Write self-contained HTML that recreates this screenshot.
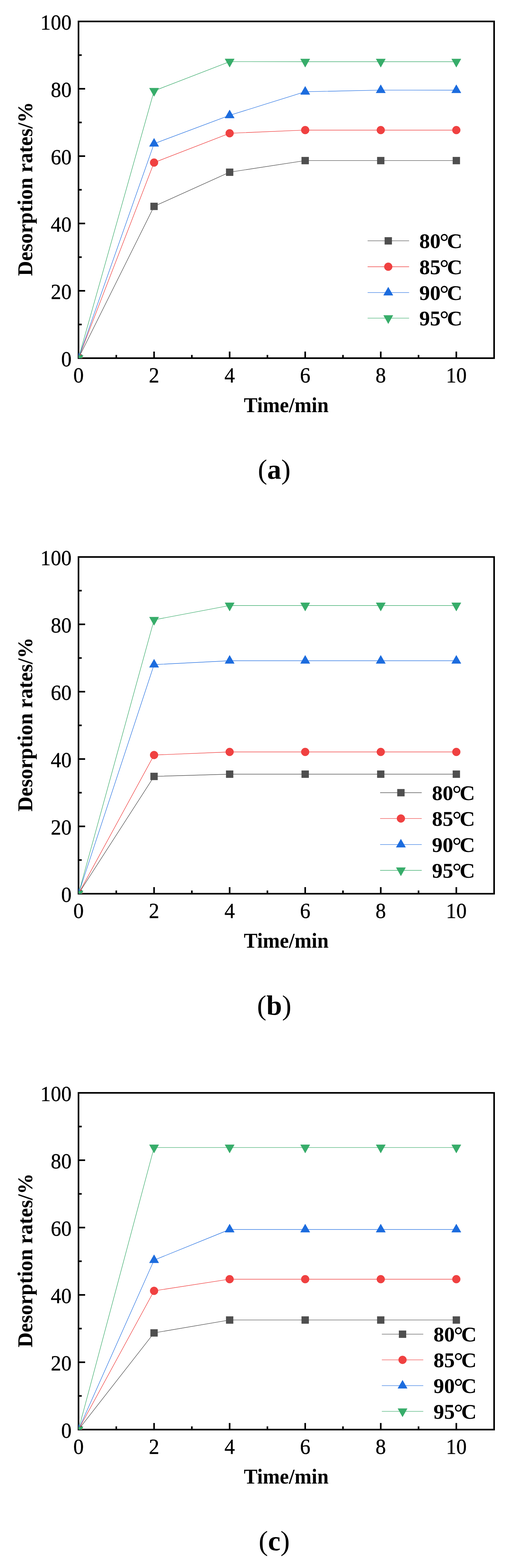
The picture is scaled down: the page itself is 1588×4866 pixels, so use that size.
<!DOCTYPE html>
<html><head><meta charset="utf-8"><title>Desorption rates</title>
<style>
html,body{margin:0;padding:0;background:#fff;}
svg{display:block;}
.tk{font-family:'Liberation Serif', 'Noto Serif CJK SC', serif;font-size:67px;fill:#000;stroke:#000;stroke-width:0.6px;}
.lab{font-family:'Liberation Serif',serif;font-weight:bold;font-size:65px;fill:#000;}
.leg{font-family:'Liberation Serif',serif;font-weight:bold;font-size:66px;fill:#000;}
.cap{font-family:'Liberation Serif',serif;font-size:87px;fill:#000;}
</style></head><body>
<svg width="1588" height="4866" viewBox="0 0 1588 4866">
<rect width="1588" height="4866" fill="#fff"/>

<g id="plot1">
<defs><clipPath id="clip0"><rect x="243.5" y="66.5" width="1289.0" height="1045.0"/></clipPath></defs>
<rect x="243.5" y="66.5" width="1289.0" height="1045.0" fill="none" stroke="#000" stroke-width="5"/>
<line x1="243.5" y1="1007.00" x2="253.50" y2="1007.00" stroke="#000" stroke-width="5"/>
<line x1="243.5" y1="902.50" x2="264.00" y2="902.50" stroke="#000" stroke-width="5"/>
<line x1="243.5" y1="798.00" x2="253.50" y2="798.00" stroke="#000" stroke-width="5"/>
<line x1="243.5" y1="693.50" x2="264.00" y2="693.50" stroke="#000" stroke-width="5"/>
<line x1="243.5" y1="589.00" x2="253.50" y2="589.00" stroke="#000" stroke-width="5"/>
<line x1="243.5" y1="484.50" x2="264.00" y2="484.50" stroke="#000" stroke-width="5"/>
<line x1="243.5" y1="380.00" x2="253.50" y2="380.00" stroke="#000" stroke-width="5"/>
<line x1="243.5" y1="275.50" x2="264.00" y2="275.50" stroke="#000" stroke-width="5"/>
<line x1="243.5" y1="171.00" x2="253.50" y2="171.00" stroke="#000" stroke-width="5"/>
<line x1="360.68" y1="1111.5" x2="360.68" y2="1101.50" stroke="#000" stroke-width="5"/>
<line x1="477.86" y1="1111.5" x2="477.86" y2="1091.00" stroke="#000" stroke-width="5"/>
<line x1="595.04" y1="1111.5" x2="595.04" y2="1101.50" stroke="#000" stroke-width="5"/>
<line x1="712.22" y1="1111.5" x2="712.22" y2="1091.00" stroke="#000" stroke-width="5"/>
<line x1="829.40" y1="1111.5" x2="829.40" y2="1101.50" stroke="#000" stroke-width="5"/>
<line x1="946.58" y1="1111.5" x2="946.58" y2="1091.00" stroke="#000" stroke-width="5"/>
<line x1="1063.76" y1="1111.5" x2="1063.76" y2="1101.50" stroke="#000" stroke-width="5"/>
<line x1="1180.94" y1="1111.5" x2="1180.94" y2="1091.00" stroke="#000" stroke-width="5"/>
<line x1="1298.12" y1="1111.5" x2="1298.12" y2="1101.50" stroke="#000" stroke-width="5"/>
<line x1="1415.30" y1="1111.5" x2="1415.30" y2="1091.00" stroke="#000" stroke-width="5"/>
<text class="tk" transform="translate(221.8,1137.00) scale(0.96,1)" text-anchor="end">0</text>
<text class="tk" transform="translate(221.8,928.00) scale(0.96,1)" text-anchor="end">20</text>
<text class="tk" transform="translate(221.8,719.00) scale(0.96,1)" text-anchor="end">40</text>
<text class="tk" transform="translate(221.8,510.00) scale(0.96,1)" text-anchor="end">60</text>
<text class="tk" transform="translate(221.8,301.00) scale(0.96,1)" text-anchor="end">80</text>
<text class="tk" transform="translate(221.8,92.00) scale(0.96,1)" text-anchor="end">100</text>
<text class="tk" transform="translate(243.50,1187.20) scale(0.96,1)" text-anchor="middle">0</text>
<text class="tk" transform="translate(477.86,1187.20) scale(0.96,1)" text-anchor="middle">2</text>
<text class="tk" transform="translate(712.22,1187.20) scale(0.96,1)" text-anchor="middle">4</text>
<text class="tk" transform="translate(946.58,1187.20) scale(0.96,1)" text-anchor="middle">6</text>
<text class="tk" transform="translate(1180.94,1187.20) scale(0.96,1)" text-anchor="middle">8</text>
<text class="tk" transform="translate(1415.30,1187.20) scale(0.96,1)" text-anchor="middle">10</text>
<text class="lab" transform="translate(887.7,1278.50) scale(0.975,1)" text-anchor="middle">Time/min</text>
<text class="lab" transform="translate(100,586.4) rotate(-90) scale(0.994,1)" x="0" y="0" text-anchor="middle">Desorption rates/%</text>
<g clip-path="url(#clip0)">
<polyline points="243.50,1111.50 477.86,640.40 712.22,534.40 946.58,498.30 1180.94,498.30 1415.30,498.30" fill="none" stroke="#3c3c3c" stroke-width="1.35" stroke-linejoin="round"/>
<polyline points="243.50,1111.50 477.86,504.50 712.22,413.60 946.58,403.70 1180.94,403.70 1415.30,403.70" fill="none" stroke="#ee2a2a" stroke-width="1.35" stroke-linejoin="round"/>
<polyline points="243.50,1111.50 477.86,445.90 712.22,357.90 946.58,284.70 1180.94,279.70 1415.30,279.70" fill="none" stroke="#1466e0" stroke-width="1.35" stroke-linejoin="round"/>
<polyline points="243.50,1111.50 477.86,282.00 712.22,191.40 946.58,191.50 1180.94,191.50 1415.30,191.50" fill="none" stroke="#28a45e" stroke-width="1.35" stroke-linejoin="round"/>
<rect x="232.55" y="1100.55" width="21.9" height="21.9" fill="#4f4f4f" stroke="#454545" stroke-width="0.8"/>
<rect x="466.91" y="629.45" width="21.9" height="21.9" fill="#4f4f4f" stroke="#454545" stroke-width="0.8"/>
<rect x="701.27" y="523.45" width="21.9" height="21.9" fill="#4f4f4f" stroke="#454545" stroke-width="0.8"/>
<rect x="935.63" y="487.35" width="21.9" height="21.9" fill="#4f4f4f" stroke="#454545" stroke-width="0.8"/>
<rect x="1169.99" y="487.35" width="21.9" height="21.9" fill="#4f4f4f" stroke="#454545" stroke-width="0.8"/>
<rect x="1404.35" y="487.35" width="21.9" height="21.9" fill="#4f4f4f" stroke="#454545" stroke-width="0.8"/>
<circle cx="243.50" cy="1111.50" r="12.4" fill="#f04141" stroke="#ea3535" stroke-width="0.8"/>
<circle cx="477.86" cy="504.50" r="12.4" fill="#f04141" stroke="#ea3535" stroke-width="0.8"/>
<circle cx="712.22" cy="413.60" r="12.4" fill="#f04141" stroke="#ea3535" stroke-width="0.8"/>
<circle cx="946.58" cy="403.70" r="12.4" fill="#f04141" stroke="#ea3535" stroke-width="0.8"/>
<circle cx="1180.94" cy="403.70" r="12.4" fill="#f04141" stroke="#ea3535" stroke-width="0.8"/>
<circle cx="1415.30" cy="403.70" r="12.4" fill="#f04141" stroke="#ea3535" stroke-width="0.8"/>
<polygon points="243.50,1094.57 258.10,1119.97 228.90,1119.97" fill="#1c6cde" stroke="#1466dc" stroke-width="0.8" stroke-linejoin="round"/>
<polygon points="477.86,428.97 492.46,454.37 463.26,454.37" fill="#1c6cde" stroke="#1466dc" stroke-width="0.8" stroke-linejoin="round"/>
<polygon points="712.22,340.97 726.82,366.37 697.62,366.37" fill="#1c6cde" stroke="#1466dc" stroke-width="0.8" stroke-linejoin="round"/>
<polygon points="946.58,267.77 961.18,293.17 931.98,293.17" fill="#1c6cde" stroke="#1466dc" stroke-width="0.8" stroke-linejoin="round"/>
<polygon points="1180.94,262.77 1195.54,288.17 1166.34,288.17" fill="#1c6cde" stroke="#1466dc" stroke-width="0.8" stroke-linejoin="round"/>
<polygon points="1415.30,262.77 1429.90,288.17 1400.70,288.17" fill="#1c6cde" stroke="#1466dc" stroke-width="0.8" stroke-linejoin="round"/>
<polygon points="229.00,1102.90 258.00,1102.90 243.50,1128.70" fill="#37ad6a" stroke="#2fa562" stroke-width="0.8" stroke-linejoin="round"/>
<polygon points="463.36,273.40 492.36,273.40 477.86,299.20" fill="#37ad6a" stroke="#2fa562" stroke-width="0.8" stroke-linejoin="round"/>
<polygon points="697.72,182.80 726.72,182.80 712.22,208.60" fill="#37ad6a" stroke="#2fa562" stroke-width="0.8" stroke-linejoin="round"/>
<polygon points="932.08,182.90 961.08,182.90 946.58,208.70" fill="#37ad6a" stroke="#2fa562" stroke-width="0.8" stroke-linejoin="round"/>
<polygon points="1166.44,182.90 1195.44,182.90 1180.94,208.70" fill="#37ad6a" stroke="#2fa562" stroke-width="0.8" stroke-linejoin="round"/>
<polygon points="1400.80,182.90 1429.80,182.90 1415.30,208.70" fill="#37ad6a" stroke="#2fa562" stroke-width="0.8" stroke-linejoin="round"/>
</g>
<line x1="1140.2" y1="747.4" x2="1268.8" y2="747.4" stroke="#3c3c3c" stroke-width="1.35"/>
<rect x="1193.25" y="736.45" width="21.9" height="21.9" fill="#4f4f4f" stroke="#454545" stroke-width="0.8"/>
<text class="leg" x="1300.5" y="770.40">80<tspan dx="-3" dy="4" font-size="72">°</tspan><tspan dx="-6" dy="-4">C</tspan></text>
<line x1="1140.2" y1="827.7" x2="1268.8" y2="827.7" stroke="#ee2a2a" stroke-width="1.35"/>
<circle cx="1204.20" cy="827.70" r="12.4" fill="#f04141" stroke="#ea3535" stroke-width="0.8"/>
<text class="leg" x="1300.5" y="850.70">85<tspan dx="-3" dy="4" font-size="72">°</tspan><tspan dx="-6" dy="-4">C</tspan></text>
<line x1="1140.2" y1="907.9" x2="1268.8" y2="907.9" stroke="#1466e0" stroke-width="1.35"/>
<polygon points="1204.20,890.97 1218.80,916.37 1189.60,916.37" fill="#1c6cde" stroke="#1466dc" stroke-width="0.8" stroke-linejoin="round"/>
<text class="leg" x="1300.5" y="930.90">90<tspan dx="-3" dy="4" font-size="72">°</tspan><tspan dx="-6" dy="-4">C</tspan></text>
<line x1="1140.2" y1="987.4" x2="1268.8" y2="987.4" stroke="#28a45e" stroke-width="1.35"/>
<polygon points="1189.70,978.80 1218.70,978.80 1204.20,1004.60" fill="#37ad6a" stroke="#2fa562" stroke-width="0.8" stroke-linejoin="round"/>
<text class="leg" x="1300.5" y="1010.40">95<tspan dx="-3" dy="4" font-size="72">°</tspan><tspan dx="-6" dy="-4">C</tspan></text>
<text class="cap" x="850.5" y="1485.6" text-anchor="middle">(<tspan font-weight="bold">a</tspan>)</text>
</g>
<g id="plot2">
<defs><clipPath id="clip1"><rect x="243.5" y="1728.5" width="1289.0" height="1045.0"/></clipPath></defs>
<rect x="243.5" y="1728.5" width="1289.0" height="1045.0" fill="none" stroke="#000" stroke-width="5"/>
<line x1="243.5" y1="2669.00" x2="253.50" y2="2669.00" stroke="#000" stroke-width="5"/>
<line x1="243.5" y1="2564.50" x2="264.00" y2="2564.50" stroke="#000" stroke-width="5"/>
<line x1="243.5" y1="2460.00" x2="253.50" y2="2460.00" stroke="#000" stroke-width="5"/>
<line x1="243.5" y1="2355.50" x2="264.00" y2="2355.50" stroke="#000" stroke-width="5"/>
<line x1="243.5" y1="2251.00" x2="253.50" y2="2251.00" stroke="#000" stroke-width="5"/>
<line x1="243.5" y1="2146.50" x2="264.00" y2="2146.50" stroke="#000" stroke-width="5"/>
<line x1="243.5" y1="2042.00" x2="253.50" y2="2042.00" stroke="#000" stroke-width="5"/>
<line x1="243.5" y1="1937.50" x2="264.00" y2="1937.50" stroke="#000" stroke-width="5"/>
<line x1="243.5" y1="1833.00" x2="253.50" y2="1833.00" stroke="#000" stroke-width="5"/>
<line x1="360.68" y1="2773.5" x2="360.68" y2="2763.50" stroke="#000" stroke-width="5"/>
<line x1="477.86" y1="2773.5" x2="477.86" y2="2753.00" stroke="#000" stroke-width="5"/>
<line x1="595.04" y1="2773.5" x2="595.04" y2="2763.50" stroke="#000" stroke-width="5"/>
<line x1="712.22" y1="2773.5" x2="712.22" y2="2753.00" stroke="#000" stroke-width="5"/>
<line x1="829.40" y1="2773.5" x2="829.40" y2="2763.50" stroke="#000" stroke-width="5"/>
<line x1="946.58" y1="2773.5" x2="946.58" y2="2753.00" stroke="#000" stroke-width="5"/>
<line x1="1063.76" y1="2773.5" x2="1063.76" y2="2763.50" stroke="#000" stroke-width="5"/>
<line x1="1180.94" y1="2773.5" x2="1180.94" y2="2753.00" stroke="#000" stroke-width="5"/>
<line x1="1298.12" y1="2773.5" x2="1298.12" y2="2763.50" stroke="#000" stroke-width="5"/>
<line x1="1415.30" y1="2773.5" x2="1415.30" y2="2753.00" stroke="#000" stroke-width="5"/>
<text class="tk" transform="translate(221.8,2799.00) scale(0.96,1)" text-anchor="end">0</text>
<text class="tk" transform="translate(221.8,2590.00) scale(0.96,1)" text-anchor="end">20</text>
<text class="tk" transform="translate(221.8,2381.00) scale(0.96,1)" text-anchor="end">40</text>
<text class="tk" transform="translate(221.8,2172.00) scale(0.96,1)" text-anchor="end">60</text>
<text class="tk" transform="translate(221.8,1963.00) scale(0.96,1)" text-anchor="end">80</text>
<text class="tk" transform="translate(221.8,1754.00) scale(0.96,1)" text-anchor="end">100</text>
<text class="tk" transform="translate(243.50,2849.20) scale(0.96,1)" text-anchor="middle">0</text>
<text class="tk" transform="translate(477.86,2849.20) scale(0.96,1)" text-anchor="middle">2</text>
<text class="tk" transform="translate(712.22,2849.20) scale(0.96,1)" text-anchor="middle">4</text>
<text class="tk" transform="translate(946.58,2849.20) scale(0.96,1)" text-anchor="middle">6</text>
<text class="tk" transform="translate(1180.94,2849.20) scale(0.96,1)" text-anchor="middle">8</text>
<text class="tk" transform="translate(1415.30,2849.20) scale(0.96,1)" text-anchor="middle">10</text>
<text class="lab" transform="translate(887.7,2940.50) scale(0.975,1)" text-anchor="middle">Time/min</text>
<text class="lab" transform="translate(100,2248.4) rotate(-90) scale(0.994,1)" x="0" y="0" text-anchor="middle">Desorption rates/%</text>
<g clip-path="url(#clip1)">
<polyline points="243.50,2773.50 477.86,2409.40 712.22,2402.50 946.58,2402.50 1180.94,2402.50 1415.30,2402.50" fill="none" stroke="#3c3c3c" stroke-width="1.35" stroke-linejoin="round"/>
<polyline points="243.50,2773.50 477.86,2343.10 712.22,2333.50 946.58,2333.50 1180.94,2333.50 1415.30,2333.50" fill="none" stroke="#ee2a2a" stroke-width="1.35" stroke-linejoin="round"/>
<polyline points="243.50,2773.50 477.86,2062.50 712.22,2050.50 946.58,2050.50 1180.94,2050.50 1415.30,2050.50" fill="none" stroke="#1466e0" stroke-width="1.35" stroke-linejoin="round"/>
<polyline points="243.50,2773.50 477.86,1923.60 712.22,1879.20 946.58,1879.20 1180.94,1879.20 1415.30,1879.20" fill="none" stroke="#28a45e" stroke-width="1.35" stroke-linejoin="round"/>
<rect x="232.55" y="2762.55" width="21.9" height="21.9" fill="#4f4f4f" stroke="#454545" stroke-width="0.8"/>
<rect x="466.91" y="2398.45" width="21.9" height="21.9" fill="#4f4f4f" stroke="#454545" stroke-width="0.8"/>
<rect x="701.27" y="2391.55" width="21.9" height="21.9" fill="#4f4f4f" stroke="#454545" stroke-width="0.8"/>
<rect x="935.63" y="2391.55" width="21.9" height="21.9" fill="#4f4f4f" stroke="#454545" stroke-width="0.8"/>
<rect x="1169.99" y="2391.55" width="21.9" height="21.9" fill="#4f4f4f" stroke="#454545" stroke-width="0.8"/>
<rect x="1404.35" y="2391.55" width="21.9" height="21.9" fill="#4f4f4f" stroke="#454545" stroke-width="0.8"/>
<circle cx="243.50" cy="2773.50" r="12.4" fill="#f04141" stroke="#ea3535" stroke-width="0.8"/>
<circle cx="477.86" cy="2343.10" r="12.4" fill="#f04141" stroke="#ea3535" stroke-width="0.8"/>
<circle cx="712.22" cy="2333.50" r="12.4" fill="#f04141" stroke="#ea3535" stroke-width="0.8"/>
<circle cx="946.58" cy="2333.50" r="12.4" fill="#f04141" stroke="#ea3535" stroke-width="0.8"/>
<circle cx="1180.94" cy="2333.50" r="12.4" fill="#f04141" stroke="#ea3535" stroke-width="0.8"/>
<circle cx="1415.30" cy="2333.50" r="12.4" fill="#f04141" stroke="#ea3535" stroke-width="0.8"/>
<polygon points="243.50,2756.57 258.10,2781.97 228.90,2781.97" fill="#1c6cde" stroke="#1466dc" stroke-width="0.8" stroke-linejoin="round"/>
<polygon points="477.86,2045.57 492.46,2070.97 463.26,2070.97" fill="#1c6cde" stroke="#1466dc" stroke-width="0.8" stroke-linejoin="round"/>
<polygon points="712.22,2033.57 726.82,2058.97 697.62,2058.97" fill="#1c6cde" stroke="#1466dc" stroke-width="0.8" stroke-linejoin="round"/>
<polygon points="946.58,2033.57 961.18,2058.97 931.98,2058.97" fill="#1c6cde" stroke="#1466dc" stroke-width="0.8" stroke-linejoin="round"/>
<polygon points="1180.94,2033.57 1195.54,2058.97 1166.34,2058.97" fill="#1c6cde" stroke="#1466dc" stroke-width="0.8" stroke-linejoin="round"/>
<polygon points="1415.30,2033.57 1429.90,2058.97 1400.70,2058.97" fill="#1c6cde" stroke="#1466dc" stroke-width="0.8" stroke-linejoin="round"/>
<polygon points="229.00,2764.90 258.00,2764.90 243.50,2790.70" fill="#37ad6a" stroke="#2fa562" stroke-width="0.8" stroke-linejoin="round"/>
<polygon points="463.36,1915.00 492.36,1915.00 477.86,1940.80" fill="#37ad6a" stroke="#2fa562" stroke-width="0.8" stroke-linejoin="round"/>
<polygon points="697.72,1870.60 726.72,1870.60 712.22,1896.40" fill="#37ad6a" stroke="#2fa562" stroke-width="0.8" stroke-linejoin="round"/>
<polygon points="932.08,1870.60 961.08,1870.60 946.58,1896.40" fill="#37ad6a" stroke="#2fa562" stroke-width="0.8" stroke-linejoin="round"/>
<polygon points="1166.44,1870.60 1195.44,1870.60 1180.94,1896.40" fill="#37ad6a" stroke="#2fa562" stroke-width="0.8" stroke-linejoin="round"/>
<polygon points="1400.80,1870.60 1429.80,1870.60 1415.30,1896.40" fill="#37ad6a" stroke="#2fa562" stroke-width="0.8" stroke-linejoin="round"/>
</g>
<line x1="1179.0" y1="2460.0" x2="1308.0" y2="2460.0" stroke="#3c3c3c" stroke-width="1.35"/>
<rect x="1232.45" y="2449.05" width="21.9" height="21.9" fill="#4f4f4f" stroke="#454545" stroke-width="0.8"/>
<text class="leg" x="1339.7" y="2483.00">80<tspan dx="-3" dy="4" font-size="72">°</tspan><tspan dx="-6" dy="-4">C</tspan></text>
<line x1="1179.0" y1="2540.1" x2="1308.0" y2="2540.1" stroke="#ee2a2a" stroke-width="1.35"/>
<circle cx="1243.40" cy="2540.10" r="12.4" fill="#f04141" stroke="#ea3535" stroke-width="0.8"/>
<text class="leg" x="1339.7" y="2563.10">85<tspan dx="-3" dy="4" font-size="72">°</tspan><tspan dx="-6" dy="-4">C</tspan></text>
<line x1="1179.0" y1="2620.9" x2="1308.0" y2="2620.9" stroke="#1466e0" stroke-width="1.35"/>
<polygon points="1243.40,2603.97 1258.00,2629.37 1228.80,2629.37" fill="#1c6cde" stroke="#1466dc" stroke-width="0.8" stroke-linejoin="round"/>
<text class="leg" x="1339.7" y="2643.90">90<tspan dx="-3" dy="4" font-size="72">°</tspan><tspan dx="-6" dy="-4">C</tspan></text>
<line x1="1179.0" y1="2701.0" x2="1308.0" y2="2701.0" stroke="#28a45e" stroke-width="1.35"/>
<polygon points="1228.90,2692.40 1257.90,2692.40 1243.40,2718.20" fill="#37ad6a" stroke="#2fa562" stroke-width="0.8" stroke-linejoin="round"/>
<text class="leg" x="1339.7" y="2724.00">95<tspan dx="-3" dy="4" font-size="72">°</tspan><tspan dx="-6" dy="-4">C</tspan></text>
<text class="cap" x="850.5" y="3148.8" text-anchor="middle">(<tspan font-weight="bold">b</tspan>)</text>
</g>
<g id="plot3">
<defs><clipPath id="clip2"><rect x="243.5" y="3391.5" width="1289.0" height="1045.0"/></clipPath></defs>
<rect x="243.5" y="3391.5" width="1289.0" height="1045.0" fill="none" stroke="#000" stroke-width="5"/>
<line x1="243.5" y1="4332.00" x2="253.50" y2="4332.00" stroke="#000" stroke-width="5"/>
<line x1="243.5" y1="4227.50" x2="264.00" y2="4227.50" stroke="#000" stroke-width="5"/>
<line x1="243.5" y1="4123.00" x2="253.50" y2="4123.00" stroke="#000" stroke-width="5"/>
<line x1="243.5" y1="4018.50" x2="264.00" y2="4018.50" stroke="#000" stroke-width="5"/>
<line x1="243.5" y1="3914.00" x2="253.50" y2="3914.00" stroke="#000" stroke-width="5"/>
<line x1="243.5" y1="3809.50" x2="264.00" y2="3809.50" stroke="#000" stroke-width="5"/>
<line x1="243.5" y1="3705.00" x2="253.50" y2="3705.00" stroke="#000" stroke-width="5"/>
<line x1="243.5" y1="3600.50" x2="264.00" y2="3600.50" stroke="#000" stroke-width="5"/>
<line x1="243.5" y1="3496.00" x2="253.50" y2="3496.00" stroke="#000" stroke-width="5"/>
<line x1="360.68" y1="4436.5" x2="360.68" y2="4426.50" stroke="#000" stroke-width="5"/>
<line x1="477.86" y1="4436.5" x2="477.86" y2="4416.00" stroke="#000" stroke-width="5"/>
<line x1="595.04" y1="4436.5" x2="595.04" y2="4426.50" stroke="#000" stroke-width="5"/>
<line x1="712.22" y1="4436.5" x2="712.22" y2="4416.00" stroke="#000" stroke-width="5"/>
<line x1="829.40" y1="4436.5" x2="829.40" y2="4426.50" stroke="#000" stroke-width="5"/>
<line x1="946.58" y1="4436.5" x2="946.58" y2="4416.00" stroke="#000" stroke-width="5"/>
<line x1="1063.76" y1="4436.5" x2="1063.76" y2="4426.50" stroke="#000" stroke-width="5"/>
<line x1="1180.94" y1="4436.5" x2="1180.94" y2="4416.00" stroke="#000" stroke-width="5"/>
<line x1="1298.12" y1="4436.5" x2="1298.12" y2="4426.50" stroke="#000" stroke-width="5"/>
<line x1="1415.30" y1="4436.5" x2="1415.30" y2="4416.00" stroke="#000" stroke-width="5"/>
<text class="tk" transform="translate(221.8,4462.00) scale(0.96,1)" text-anchor="end">0</text>
<text class="tk" transform="translate(221.8,4253.00) scale(0.96,1)" text-anchor="end">20</text>
<text class="tk" transform="translate(221.8,4044.00) scale(0.96,1)" text-anchor="end">40</text>
<text class="tk" transform="translate(221.8,3835.00) scale(0.96,1)" text-anchor="end">60</text>
<text class="tk" transform="translate(221.8,3626.00) scale(0.96,1)" text-anchor="end">80</text>
<text class="tk" transform="translate(221.8,3417.00) scale(0.96,1)" text-anchor="end">100</text>
<text class="tk" transform="translate(243.50,4512.20) scale(0.96,1)" text-anchor="middle">0</text>
<text class="tk" transform="translate(477.86,4512.20) scale(0.96,1)" text-anchor="middle">2</text>
<text class="tk" transform="translate(712.22,4512.20) scale(0.96,1)" text-anchor="middle">4</text>
<text class="tk" transform="translate(946.58,4512.20) scale(0.96,1)" text-anchor="middle">6</text>
<text class="tk" transform="translate(1180.94,4512.20) scale(0.96,1)" text-anchor="middle">8</text>
<text class="tk" transform="translate(1415.30,4512.20) scale(0.96,1)" text-anchor="middle">10</text>
<text class="lab" transform="translate(887.7,4603.50) scale(0.975,1)" text-anchor="middle">Time/min</text>
<text class="lab" transform="translate(100,3911.4) rotate(-90) scale(0.994,1)" x="0" y="0" text-anchor="middle">Desorption rates/%</text>
<g clip-path="url(#clip2)">
<polyline points="243.50,4436.50 477.86,4136.40 712.22,4096.40 946.58,4096.40 1180.94,4096.40 1415.30,4096.40" fill="none" stroke="#3c3c3c" stroke-width="1.35" stroke-linejoin="round"/>
<polyline points="243.50,4436.50 477.86,4005.90 712.22,3969.70 946.58,3969.70 1180.94,3969.70 1415.30,3969.70" fill="none" stroke="#ee2a2a" stroke-width="1.35" stroke-linejoin="round"/>
<polyline points="243.50,4436.50 477.86,3910.60 712.22,3815.50 946.58,3815.50 1180.94,3815.50 1415.30,3815.50" fill="none" stroke="#1466e0" stroke-width="1.35" stroke-linejoin="round"/>
<polyline points="243.50,4436.50 477.86,3561.10 712.22,3561.10 946.58,3561.10 1180.94,3561.10 1415.30,3561.10" fill="none" stroke="#28a45e" stroke-width="1.35" stroke-linejoin="round"/>
<rect x="232.55" y="4425.55" width="21.9" height="21.9" fill="#4f4f4f" stroke="#454545" stroke-width="0.8"/>
<rect x="466.91" y="4125.45" width="21.9" height="21.9" fill="#4f4f4f" stroke="#454545" stroke-width="0.8"/>
<rect x="701.27" y="4085.45" width="21.9" height="21.9" fill="#4f4f4f" stroke="#454545" stroke-width="0.8"/>
<rect x="935.63" y="4085.45" width="21.9" height="21.9" fill="#4f4f4f" stroke="#454545" stroke-width="0.8"/>
<rect x="1169.99" y="4085.45" width="21.9" height="21.9" fill="#4f4f4f" stroke="#454545" stroke-width="0.8"/>
<rect x="1404.35" y="4085.45" width="21.9" height="21.9" fill="#4f4f4f" stroke="#454545" stroke-width="0.8"/>
<circle cx="243.50" cy="4436.50" r="12.4" fill="#f04141" stroke="#ea3535" stroke-width="0.8"/>
<circle cx="477.86" cy="4005.90" r="12.4" fill="#f04141" stroke="#ea3535" stroke-width="0.8"/>
<circle cx="712.22" cy="3969.70" r="12.4" fill="#f04141" stroke="#ea3535" stroke-width="0.8"/>
<circle cx="946.58" cy="3969.70" r="12.4" fill="#f04141" stroke="#ea3535" stroke-width="0.8"/>
<circle cx="1180.94" cy="3969.70" r="12.4" fill="#f04141" stroke="#ea3535" stroke-width="0.8"/>
<circle cx="1415.30" cy="3969.70" r="12.4" fill="#f04141" stroke="#ea3535" stroke-width="0.8"/>
<polygon points="243.50,4419.57 258.10,4444.97 228.90,4444.97" fill="#1c6cde" stroke="#1466dc" stroke-width="0.8" stroke-linejoin="round"/>
<polygon points="477.86,3893.67 492.46,3919.07 463.26,3919.07" fill="#1c6cde" stroke="#1466dc" stroke-width="0.8" stroke-linejoin="round"/>
<polygon points="712.22,3798.57 726.82,3823.97 697.62,3823.97" fill="#1c6cde" stroke="#1466dc" stroke-width="0.8" stroke-linejoin="round"/>
<polygon points="946.58,3798.57 961.18,3823.97 931.98,3823.97" fill="#1c6cde" stroke="#1466dc" stroke-width="0.8" stroke-linejoin="round"/>
<polygon points="1180.94,3798.57 1195.54,3823.97 1166.34,3823.97" fill="#1c6cde" stroke="#1466dc" stroke-width="0.8" stroke-linejoin="round"/>
<polygon points="1415.30,3798.57 1429.90,3823.97 1400.70,3823.97" fill="#1c6cde" stroke="#1466dc" stroke-width="0.8" stroke-linejoin="round"/>
<polygon points="229.00,4427.90 258.00,4427.90 243.50,4453.70" fill="#37ad6a" stroke="#2fa562" stroke-width="0.8" stroke-linejoin="round"/>
<polygon points="463.36,3552.50 492.36,3552.50 477.86,3578.30" fill="#37ad6a" stroke="#2fa562" stroke-width="0.8" stroke-linejoin="round"/>
<polygon points="697.72,3552.50 726.72,3552.50 712.22,3578.30" fill="#37ad6a" stroke="#2fa562" stroke-width="0.8" stroke-linejoin="round"/>
<polygon points="932.08,3552.50 961.08,3552.50 946.58,3578.30" fill="#37ad6a" stroke="#2fa562" stroke-width="0.8" stroke-linejoin="round"/>
<polygon points="1166.44,3552.50 1195.44,3552.50 1180.94,3578.30" fill="#37ad6a" stroke="#2fa562" stroke-width="0.8" stroke-linejoin="round"/>
<polygon points="1400.80,3552.50 1429.80,3552.50 1415.30,3578.30" fill="#37ad6a" stroke="#2fa562" stroke-width="0.8" stroke-linejoin="round"/>
</g>
<line x1="1184.3" y1="4140.4" x2="1312.8" y2="4140.4" stroke="#3c3c3c" stroke-width="1.35"/>
<rect x="1237.55" y="4129.45" width="21.9" height="21.9" fill="#4f4f4f" stroke="#454545" stroke-width="0.8"/>
<text class="leg" x="1344.6" y="4163.40">80<tspan dx="-3" dy="4" font-size="72">°</tspan><tspan dx="-6" dy="-4">C</tspan></text>
<line x1="1184.3" y1="4220.1" x2="1312.8" y2="4220.1" stroke="#ee2a2a" stroke-width="1.35"/>
<circle cx="1248.50" cy="4220.10" r="12.4" fill="#f04141" stroke="#ea3535" stroke-width="0.8"/>
<text class="leg" x="1344.6" y="4243.10">85<tspan dx="-3" dy="4" font-size="72">°</tspan><tspan dx="-6" dy="-4">C</tspan></text>
<line x1="1184.3" y1="4300.1" x2="1312.8" y2="4300.1" stroke="#1466e0" stroke-width="1.35"/>
<polygon points="1248.50,4283.17 1263.10,4308.57 1233.90,4308.57" fill="#1c6cde" stroke="#1466dc" stroke-width="0.8" stroke-linejoin="round"/>
<text class="leg" x="1344.6" y="4323.10">90<tspan dx="-3" dy="4" font-size="72">°</tspan><tspan dx="-6" dy="-4">C</tspan></text>
<line x1="1184.3" y1="4379.8" x2="1312.8" y2="4379.8" stroke="#28a45e" stroke-width="1.35"/>
<polygon points="1234.00,4371.20 1263.00,4371.20 1248.50,4397.00" fill="#37ad6a" stroke="#2fa562" stroke-width="0.8" stroke-linejoin="round"/>
<text class="leg" x="1344.6" y="4402.80">95<tspan dx="-3" dy="4" font-size="72">°</tspan><tspan dx="-6" dy="-4">C</tspan></text>
<text class="cap" x="850.5" y="4810.6" text-anchor="middle">(<tspan font-weight="bold">c</tspan>)</text>
</g>
</svg>
</body></html>
